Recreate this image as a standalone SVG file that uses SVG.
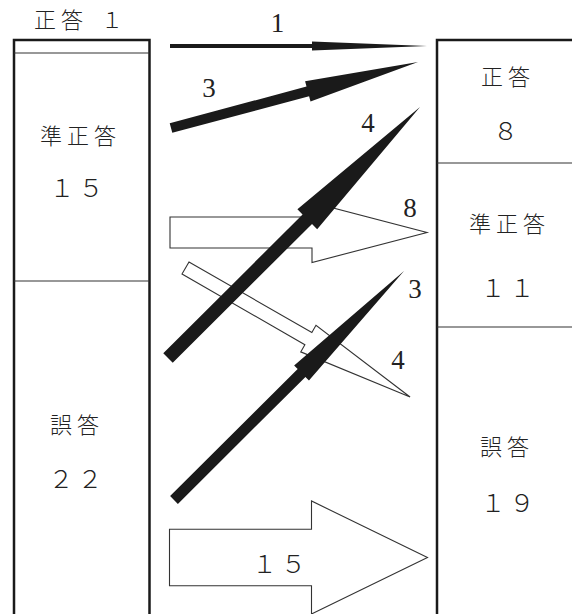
<svg xmlns="http://www.w3.org/2000/svg" width="572" height="614" viewBox="0 0 572 614">
<style>
.frame{fill:none;stroke:#1a1a1a;stroke-width:2.5}
.div{fill:none;stroke:#333;stroke-width:1.2}
.jp{font-family:"Noto Sans CJK JP","Noto Sans CJK SC",sans-serif;font-size:22px;fill:#222;letter-spacing:5px;font-weight:300}
.num{font-family:"Noto Sans CJK JP","Noto Sans CJK SC",sans-serif;font-size:25px;fill:#222;letter-spacing:4px;font-weight:300}
.lab{font-family:"Liberation Serif",serif;font-size:27px;fill:#222;text-anchor:middle}
.solid{fill:#1a1a1a;stroke:none}
.hollow{fill:#fff;stroke:#333;stroke-width:1.1;stroke-linejoin:miter}
</style>
<rect width="572" height="614" fill="#fff"/>
<text class="jp" x="34" y="28">正答 <tspan x="101">１</tspan></text>
<g id="left">
<path class="frame" d="M14,614 V40 H149.5 V614"/>
<line class="div" x1="14" y1="53" x2="149.5" y2="53"/>
<line class="div" x1="14" y1="281" x2="149.5" y2="281"/>
<text class="jp" x="40" y="144">準正答</text>
<text class="num" x="49.5" y="197">１５</text>
<text class="jp" x="50" y="433">誤答</text>
<text class="num" x="48.5" y="488">２２</text>
</g>
<g id="right">
<path class="frame" d="M437,614 V40 H572"/>
<line class="div" x1="437" y1="163" x2="572" y2="163"/>
<line class="div" x1="437" y1="327" x2="572" y2="327" stroke="#666"/>
<text class="jp" x="481" y="85">正答</text>
<text class="num" x="505.5" y="140" text-anchor="middle" style="letter-spacing:0">８</text>
<text class="jp" x="469" y="232">準正答</text>
<text class="num" x="480.5" y="297">１１</text>
<text class="jp" x="480" y="455">誤答</text>
<text class="num" x="480.5" y="512">１９</text>
</g>
<g id="connectors">
<polygon class="hollow" points="0,-15.5 142,-15.5 142,-30 257,0 142,30 142,15.5 0,15.5" transform="translate(170,232.5)"/>
<polygon class="hollow" points="0,-7 141.7,-7 141.7,-15.3 259,0 141.7,15.3 141.7,7 0,7" transform="translate(185.5,268) rotate(29.88)"/>
<polygon class="hollow" points="0,-28.3 142,-28.3 142,-56.5 258,0 142,56.5 142,28.3 0,28.3" transform="translate(169.5,557.5)"/>
<polygon class="solid" points="0,-2 142,-2 142,-4.5 257,0 142,4.5 142,2 0,2" transform="translate(170,46)"/>
<polygon class="solid" points="0,-5 141.6,-5 141.6,-10.5 255.7,0 141.6,10.5 141.6,5 0,5" transform="translate(171,128) rotate(-14.96)"/>
<polygon class="solid" points="0,-6.7 196.6,-6.7 196.6,-14 355.7,0 196.6,14 196.6,6.7 0,6.7" transform="translate(168,358) rotate(-44.89)"/>
<polygon class="solid" points="0,-5.5 180,-5.5 180,-10.5 324.6,0 180,10.5 180,5.5 0,5.5" transform="translate(174,500) rotate(-44.88)"/>
<text class="lab" x="277.5" y="32">1</text>
<text class="lab" x="209" y="97">3</text>
<text class="lab" x="368" y="132">4</text>
<text class="lab" x="410" y="217">8</text>
<text class="lab" x="415" y="298">3</text>
<text class="lab" x="398" y="369">4</text>
<text class="num" x="252" y="573">１５</text>
</g>
</svg>
